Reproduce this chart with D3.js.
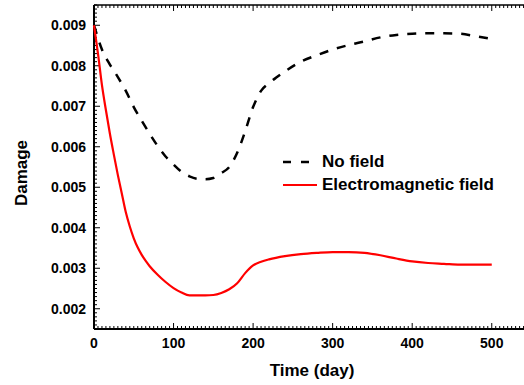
<!DOCTYPE html>
<html>
<head>
<meta charset="utf-8">
<script src="https://cdn.jsdelivr.net/npm/d3@7"></script>
<style>
  html, body { margin: 0; padding: 0; background: #fff; }
  svg { display: block; }
  text { font-family: "Liberation Sans", Arial, sans-serif; font-weight: bold; fill: #000; }
</style>
</head>
<body>
<svg id="chart" width="524" height="385"></svg>
<script>
// ---- data ----
const noFieldTime = [0,10,20,30,40,50,60,70,80,90,100,110,120,130,140,150,160,170,180,190,200,210,220,230,240,260,280,300,320,340,360,380,400,420,440,460,480,500];
const noFieldDamage = [0.00900,0.00840,0.00803,0.00772,0.00738,0.00698,0.00664,0.00632,0.00602,0.00576,0.00556,0.00538,0.00527,0.00521,0.00520,0.00523,0.00535,0.00550,0.00585,0.00638,0.00698,0.00738,0.00757,0.00772,0.00786,0.00810,0.00826,0.00840,0.00851,0.00860,0.00870,0.00876,0.00879,0.00880,0.00880,0.00879,0.00873,0.00866];

const emTime = [0,5,10,15,20,25,30,35,40,45,50,55,60,65,70,80,90,100,110,120,130,140,150,160,170,180,190,200,210,220,240,260,280,300,320,340,360,380,400,420,440,460,480,500];
const emDamage = [0.00900,0.00830,0.00752,0.00690,0.00632,0.00580,0.00530,0.00484,0.00438,0.00403,0.00374,0.00351,0.00333,0.00318,0.00305,0.00284,0.00266,0.00251,0.00240,0.00233,0.00233,0.00233,0.00234,0.00239,0.00248,0.00263,0.00288,0.00307,0.00316,0.00322,0.00330,0.00335,0.00338,0.00340,0.00340,0.00338,0.00332,0.00324,0.00317,0.00313,0.00311,0.00309,0.00309,0.00309];

const xTicks = [0,100,200,300,400,500];
const yTicks = [0.002,0.003,0.004,0.005,0.006,0.007,0.008,0.009];
const seriesNames = ["No field","Electromagnetic field"];
const xTitle = "Time (day)";
const yTitle = "Damage";

// ---- layout ----
const svg = d3.select("#chart");
const mLeft = 94, mTop = 5, mBottom = 329, mRight = 536;
const x = d3.scaleLinear().domain([0, 555]).range([mLeft, mLeft + 555 * 0.7955]);
const y = d3.scaleLinear().domain([0.0015, 0.0095]).range([mBottom, mTop]);

// frame lines
const g = svg.append("g");
g.append("line").attr("x1", mLeft).attr("x2", mLeft).attr("y1", mTop).attr("y2", mBottom).attr("stroke", "#000").attr("stroke-width", 2);
g.append("line").attr("x1", mLeft).attr("x2", mRight).attr("y1", mBottom).attr("y2", mBottom).attr("stroke", "#000").attr("stroke-width", 2);
g.append("line").attr("x1", mLeft).attr("x2", mRight).attr("y1", mTop).attr("y2", mTop).attr("stroke", "#000").attr("stroke-width", 1.5);

// x minor / major ticks (bottom & top, inward)
const xMinor = d3.range(0, 556, 5);
xMinor.forEach(v => {
  const major = v % 100 === 0;
  const len = major ? 6 : 3;
  g.append("line").attr("x1", x(v)).attr("x2", x(v)).attr("y1", mBottom).attr("y2", mBottom - len).attr("stroke", "#000").attr("stroke-width", 1);
  g.append("line").attr("x1", x(v)).attr("x2", x(v)).attr("y1", mTop).attr("y2", mTop + len).attr("stroke", "#000").attr("stroke-width", 1);
});
// y minor / major ticks (left, inward)
const yMinor = d3.range(15, 96, 1).map(d => d / 10000);
yMinor.forEach(v => {
  const major = Math.abs(Math.round(v * 10000) % 10) === 0;
  const len = major ? 6 : 3;
  g.append("line").attr("x1", mLeft).attr("x2", mLeft + len).attr("y1", y(v)).attr("y2", y(v)).attr("stroke", "#000").attr("stroke-width", 1);
});

// tick labels
g.selectAll(".xl").data(xTicks).enter().append("text")
  .attr("x", d => x(d)).attr("y", 348).attr("text-anchor", "middle")
  .style("font-size", "14px").text(d => d);
g.selectAll(".yl").data(yTicks).enter().append("text")
  .attr("x", 86).attr("y", d => y(d) + 5).attr("text-anchor", "end")
  .style("font-size", "14px").text(d => d.toFixed(3));

// axis titles
svg.append("text").attr("x", 312).attr("y", 376).attr("text-anchor", "middle").style("font-size", "17px").text(xTitle);
svg.append("text").attr("transform", "translate(27,173) rotate(-90)").attr("text-anchor", "middle").style("font-size", "17px").text(yTitle);

// lines
const line = d3.line().curve(d3.curveMonotoneX).x(d => x(d[0])).y(d => y(d[1]));
const nf = noFieldTime.map((t, i) => [t, noFieldDamage[i]]);
const em = emTime.map((t, i) => [t, emDamage[i]]);
svg.append("path").attr("d", line(nf)).attr("fill", "none").attr("stroke", "#000").attr("stroke-width", 2.5).attr("stroke-dasharray", "9,9");
svg.append("path").attr("d", line(em)).attr("fill", "none").attr("stroke", "#ff0000").attr("stroke-width", 2.2);

// legend
const lg = svg.append("g");
lg.append("line").attr("x1", 283).attr("x2", 317).attr("y1", 162).attr("y2", 162).attr("stroke", "#000").attr("stroke-width", 2.5).attr("stroke-dasharray", "8,10");
lg.append("text").attr("x", 322).attr("y", 167).style("font-size", "17px").text(seriesNames[0]);
lg.append("line").attr("x1", 283).attr("x2", 317).attr("y1", 185).attr("y2", 185).attr("stroke", "#ff0000").attr("stroke-width", 2.2);
lg.append("text").attr("x", 322).attr("y", 190).style("font-size", "17px").text(seriesNames[1]);
</script>
</body>
</html>
